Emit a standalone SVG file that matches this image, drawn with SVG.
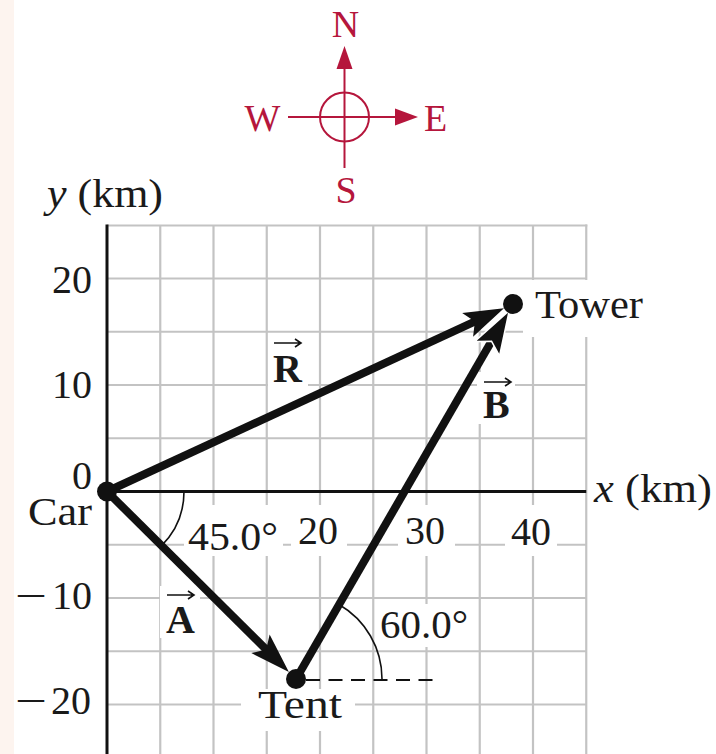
<svg xmlns="http://www.w3.org/2000/svg" width="716" height="754" viewBox="0 0 716 754">
  <style>
    .t { font-family: "Liberation Serif", "Times New Roman", serif; font-size: 40px; fill: #1a1a1a; }
    .c { font-family: "Liberation Serif", "Times New Roman", serif; font-size: 38px; fill: #b5163c; text-anchor: middle; }
    .b { font-weight: bold; }
    .grid line { stroke: #c3c3c3; stroke-width: 2.2; }
    .vec { stroke: #111; stroke-width: 8; fill: none; }
    .va { stroke: #111; stroke-width: 1.6; fill: none; }
    .bg { fill: #fff; }
  </style>
  <defs>
    <marker id="head" markerUnits="userSpaceOnUse" viewBox="-2 -16 44 32" refX="22" refY="0" markerWidth="44" markerHeight="32" orient="auto">
      <path d="M40,0 L0,-13 L8,0 L0,13 Z" fill="#111"/>
    </marker>
    <marker id="headB" markerUnits="userSpaceOnUse" viewBox="-2 -16 44 32" refX="22" refY="0" markerWidth="44" markerHeight="32" orient="auto">
      <path d="M40,0 L0,-13 L8,0 L0,13 Z" fill="#111" stroke="#fff" stroke-width="3" paint-order="stroke"/>
    </marker>
    <path id="varrow" d="M0,0 H27 M21,-4 L27,0 L21,4"/>
  </defs>

  <rect x="0" y="0" width="716" height="754" fill="#fff"/>
  <rect x="0" y="0" width="14" height="754" fill="#fdf4ef"/>

  <g id="compass">
    <line x1="344.5" y1="62" x2="344.5" y2="168" stroke="#b5163c" stroke-width="2"/>
    <polygon points="344.5,46 336.5,69 352.5,69" fill="#b5163c"/>
    <line x1="288" y1="117" x2="400" y2="117" stroke="#b5163c" stroke-width="2"/>
    <polygon points="418,117 395,108.5 395,125.5" fill="#b5163c"/>
    <circle cx="344.5" cy="117" r="24.5" fill="none" stroke="#b5163c" stroke-width="2"/>
    <text class="c" x="345.5" y="37">N</text>
    <text class="c" x="262.5" y="131">W</text>
    <text class="c" x="435.5" y="131">E</text>
    <text class="c" x="346" y="203">S</text>
  </g>

  <g id="grid" class="grid">
    <line x1="160.25" y1="225.5" x2="160.25" y2="754"/>
    <line x1="213.5" y1="225.5" x2="213.5" y2="754"/>
    <line x1="266.75" y1="225.5" x2="266.75" y2="754"/>
    <line x1="320" y1="225.5" x2="320" y2="754"/>
    <line x1="373.25" y1="225.5" x2="373.25" y2="754"/>
    <line x1="426.5" y1="225.5" x2="426.5" y2="754"/>
    <line x1="479.75" y1="225.5" x2="479.75" y2="754"/>
    <line x1="533" y1="225.5" x2="533" y2="754"/>
    <line x1="586.25" y1="224.4" x2="586.25" y2="754"/>
    <line x1="107" y1="225.5" x2="587.3" y2="225.5"/>
    <line x1="107" y1="278.5" x2="586.25" y2="278.5"/>
    <line x1="107" y1="331.75" x2="586.25" y2="331.75"/>
    <line x1="107" y1="385" x2="586.25" y2="385"/>
    <line x1="107" y1="438.25" x2="586.25" y2="438.25"/>
    <line x1="107" y1="544.75" x2="586.25" y2="544.75"/>
    <line x1="107" y1="598" x2="586.25" y2="598"/>
    <line x1="107" y1="651.25" x2="586.25" y2="651.25"/>
    <line x1="107" y1="704.5" x2="586.25" y2="704.5"/>
  </g>

  <g id="label-backgrounds">
    <rect class="bg" x="184" y="505" width="99" height="51"/>
    <rect class="bg" x="291" y="505" width="56" height="51"/>
    <rect class="bg" x="398" y="505" width="57" height="51"/>
    <rect class="bg" x="505" y="505" width="52" height="51"/>
    <rect class="bg" x="241" y="689" width="114" height="42"/>
    <rect class="bg" x="376" y="604" width="96" height="43"/>
    <rect class="bg" x="268" y="334" width="40" height="56"/>
    <rect class="bg" x="477" y="372" width="38" height="52"/>
    <rect class="bg" x="523" y="280" width="127" height="57"/>
    <rect class="bg" x="160" y="586" width="40" height="52"/>
  </g>

  <g id="axes">
    <line x1="107" y1="224.5" x2="107" y2="754" stroke="#111" stroke-width="3"/>
    <line x1="107" y1="491.5" x2="586.25" y2="491.5" stroke="#111" stroke-width="3"/>
    <text class="t" x="47" y="207" textLength="116" lengthAdjust="spacingAndGlyphs"><tspan font-style="italic">y</tspan> (km)</text>
    <text class="t" x="594" y="502" textLength="118" lengthAdjust="spacingAndGlyphs"><tspan font-style="italic">x</tspan> (km)</text>
    <text class="t" x="92" y="293" text-anchor="end">20</text>
    <text class="t" x="92" y="398" text-anchor="end">10</text>
    <text class="t" x="92" y="489" text-anchor="end">0</text>
    <text class="t" y="609"><tspan x="15" textLength="32" lengthAdjust="spacingAndGlyphs">−</tspan><tspan x="52">10</tspan></text>
    <text class="t" y="714"><tspan x="15" textLength="32" lengthAdjust="spacingAndGlyphs">−</tspan><tspan x="51">20</tspan></text>
    <text class="t" x="298" y="544">20</text>
    <text class="t" x="405" y="544">30</text>
    <text class="t" x="511" y="545">40</text>
  </g>

  <g id="angles">
    <path d="M184,491.5 A77,77 0 0 1 161.4,545.9" fill="none" stroke="#111" stroke-width="1.6"/>
    <text class="t" x="188" y="550" textLength="90" lengthAdjust="spacingAndGlyphs">45.0°</text>
    <line x1="306" y1="680" x2="440" y2="680" stroke="#111" stroke-width="2.2" stroke-dasharray="14 8.5"/>
    <path d="M382,679 A86,86 0 0 0 339,604.5" fill="none" stroke="#111" stroke-width="1.6"/>
    <text class="t" x="380" y="638" textLength="88" lengthAdjust="spacingAndGlyphs">60.0°</text>
  </g>

  <g id="connectors">
    <g id="vecR">
      <line class="vec" x1="107" y1="491.5" x2="487.6" y2="315.7" marker-end="url(#head)"/>
      <use href="#varrow" class="va" x="274" y="343"/>
      <text class="t b" x="273" y="382">R</text>
    </g>
    <g id="vecA">
      <line class="vec" x1="107" y1="491.5" x2="276.1" y2="659.3" marker-end="url(#head)"/>
      <use href="#varrow" class="va" x="167" y="595"/>
      <text class="t b" x="166" y="633">A</text>
    </g>
    <g id="vecB">
      <line class="vec" x1="296" y1="679" x2="499" y2="328.3" marker-end="url(#headB)"/>
      <use href="#varrow" class="va" x="484" y="382"/>
      <text class="t b" x="483" y="418">B</text>
    </g>
  </g>

  <g id="car">
    <circle cx="107" cy="491.5" r="10" fill="#111"/>
    <text class="t" x="28" y="525" textLength="64" lengthAdjust="spacingAndGlyphs">Car</text>
  </g>
  <g id="tent">
    <circle cx="296" cy="679" r="10" fill="#111"/>
    <text class="t" x="258" y="718" textLength="84" lengthAdjust="spacingAndGlyphs">Tent</text>
  </g>
  <g id="tower">
    <circle cx="513" cy="304" r="10" fill="#111"/>
    <text class="t" x="535" y="318" textLength="108" lengthAdjust="spacingAndGlyphs">Tower</text>
  </g>
</svg>
